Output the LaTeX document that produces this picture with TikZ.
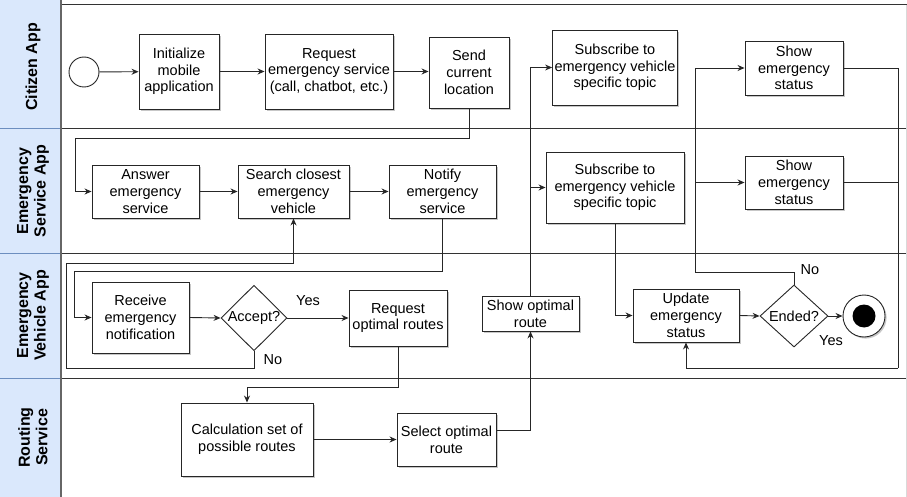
\documentclass[tikz,border=0pt]{standalone}
\usepackage{fontspec}
\setmainfont{Liberation Sans}
\usetikzlibrary{arrows.meta,shapes.geometric,shadows}
\definecolor{hdrfill}{HTML}{DAE8FC}
\definecolor{hdrline}{HTML}{6C8EBF}
\definecolor{laneline}{HTML}{333333}
\tikzset{
  box/.style={draw=black!85, fill=white, line width=0.9pt, align=center, inner sep=2pt,
    font=\fontsize{14.5}{16.7}\selectfont,
    drop shadow={shadow xshift=1.6pt, shadow yshift=-1.6pt, fill=black, opacity=0.22}},
  dia/.style={draw=black!85, fill=white, line width=0.9pt, diamond, inner sep=0pt, align=center,
    font=\fontsize{14.5}{16.7}\selectfont},
  arr/.style={draw=black!85, line width=0.9pt, -{Stealth[length=7pt,width=6pt]}},
  ln/.style={draw=black!85, line width=0.9pt},
  lbl/.style={font=\fontsize{14.5}{16.7}\selectfont, inner sep=0pt},
  hdr/.style={rotate=90, align=center, font=\fontsize{16}{17.5}\selectfont\bfseries, inner sep=0pt}
}
\begin{document}
\begin{tikzpicture}[x=1pt,y=-1pt]
\useasboundingbox (0,0) rectangle (907,497);
% header column
\fill[hdrfill] (0,0) rectangle (61,497);
\foreach \yy in {129,253,378} {\draw[hdrline, line width=1pt] (0,\yy) -- (61,\yy);}
\foreach \yy in {5,129,253,378} {\draw[laneline, line width=1pt] (61,\yy) -- (907,\yy);}
\draw[black!15, line width=1pt] (906,5) -- (906,497);
\draw[black!60, line width=2pt] (61,0) -- (61,497);
\node[hdr] (h1) at (33,67) {Citizen App};
\node[hdr] (h2) at (33,191) {Emergency\\Service App};
\node[hdr] (h3) at (33,315.5) {Emergency\\Vehicle App};
\node[hdr] (h4) at (33,437.5) {Routing\\Service};

% nodes
\node[draw=black!85, fill=white, line width=0.9pt, circle, minimum size=30pt, inner sep=0pt] (start) at (84,72) {};
\node[box, minimum width=80pt, minimum height=75pt] (init) at (179,71.5) {Initialize\\mobile\\application};
\node[box, minimum width=128pt, minimum height=75pt] (req) at (329,71.5) {Request\\emergency service\\(call, chatbot, etc.)};
\node[box, minimum width=80pt, minimum height=71pt] (send) at (469,72.5) {Send\\current\\location};
\node[box, minimum width=124pt, minimum height=75pt] (sub1) at (615,67.5) {Subscribe to\\emergency vehicle\\specific topic};
\node[box, minimum width=98pt, minimum height=54pt] (show1) at (794,68) {Show\\emergency\\status};

\node[box, minimum width=107pt, minimum height=53pt] (answer) at (145.5,191.5) {Answer\\emergency\\service};
\node[box, minimum width=111pt, minimum height=53pt] (search) at (293.5,191.5) {Search closest\\emergency\\vehicle};
\node[box, minimum width=107pt, minimum height=53pt] (notify) at (442.5,191.5) {Notify\\emergency\\service};
\node[box, minimum width=138pt, minimum height=71pt] (sub2) at (615,187.5) {Subscribe to\\emergency vehicle\\specific topic};
\node[box, minimum width=98pt, minimum height=53pt] (show2) at (794,182.5) {Show\\emergency\\status};

\node[box, minimum width=97pt, minimum height=71pt] (receive) at (140.5,317.5) {Receive\\emergency\\notification};
\node[dia, minimum width=66pt, minimum height=62pt] (accept) at (254,318) {Accept?};
\node[box, minimum width=98pt, minimum height=56pt] (reqopt) at (398,318) {Request\\optimal routes};
\node[box, minimum width=97pt, minimum height=35pt] (showopt) at (530.5,313.5) {Show optimal\\route};
\node[box, minimum width=106pt, minimum height=53pt] (update) at (686,315.5) {Update\\emergency\\status};
\node[dia, minimum width=68pt, minimum height=62pt] (ended) at (794,316) {Ended?};
\node[draw=black!85, fill=white, line width=0.9pt, circle, minimum size=42pt, inner sep=0pt,
  drop shadow={shadow xshift=1.6pt, shadow yshift=-1.6pt, fill=black, opacity=0.22}] (endc) at (864,316) {};
\node[fill=black, circle, minimum size=23pt, inner sep=0pt] (endin) at (endc) {};

\node[box, minimum width=132pt, minimum height=73pt] (calc) at (247,439.5) {Calculation set of\\possible routes};
\node[box, minimum width=99pt, minimum height=53pt] (select) at (446.5,439.5) {Select optimal\\route};

% connectors
\draw[arr] (start) -- (init);
\draw[arr] (init) -- (req);
\draw[arr] (req.east) -- (send.west |- req.east);
\draw[arr] (send.south) |- (75,138) |- (answer.west);
\draw[arr] (answer) -- (search);
\draw[arr] (search) -- (notify);
\draw[arr] (notify.south) |- (74,271) |- (receive.west);
\draw[arr] (receive.east) -- (accept.west);
\draw[arr] (accept.east) -- (reqopt.west);
\draw[arr] (accept.south) |- (66,368) |- (search.south |- 0,263) -- (search.south);
\draw[arr] (reqopt.south) |- (247,387) -- (calc.north);
\draw[arr] (calc) -- (select);
\draw[arr] (select.east |- 0,430) -| (showopt.south);
\draw[arr] (showopt.north) |- (sub1.west);
\draw[arr] (showopt.north |- sub2.west) -- (sub2.west);
\draw[arr] (sub2.south) |- (update.west);
\draw[arr] (update.east) -- (ended.west);
\draw[arr] (ended.east) -- (endc.west);
\draw[arr] (ended.north) |- (695,272) |- (show1.west);
\draw[arr] (695,182.5) -- (show2.west);
\draw[ln] (show1.east) -| (898,368);
\draw[ln] (show2.east) -- (898,182.5);
\draw[arr] (898,368) -| (update.south);

% labels
\node[lbl] (lyes1) at (308,301) {Yes};
\node[lbl] (lno1) at (273,360) {No};
\node[lbl] (lno2) at (810,270) {No};
\node[lbl] (lyes2) at (831,341) {Yes};
\end{tikzpicture}
\end{document}
